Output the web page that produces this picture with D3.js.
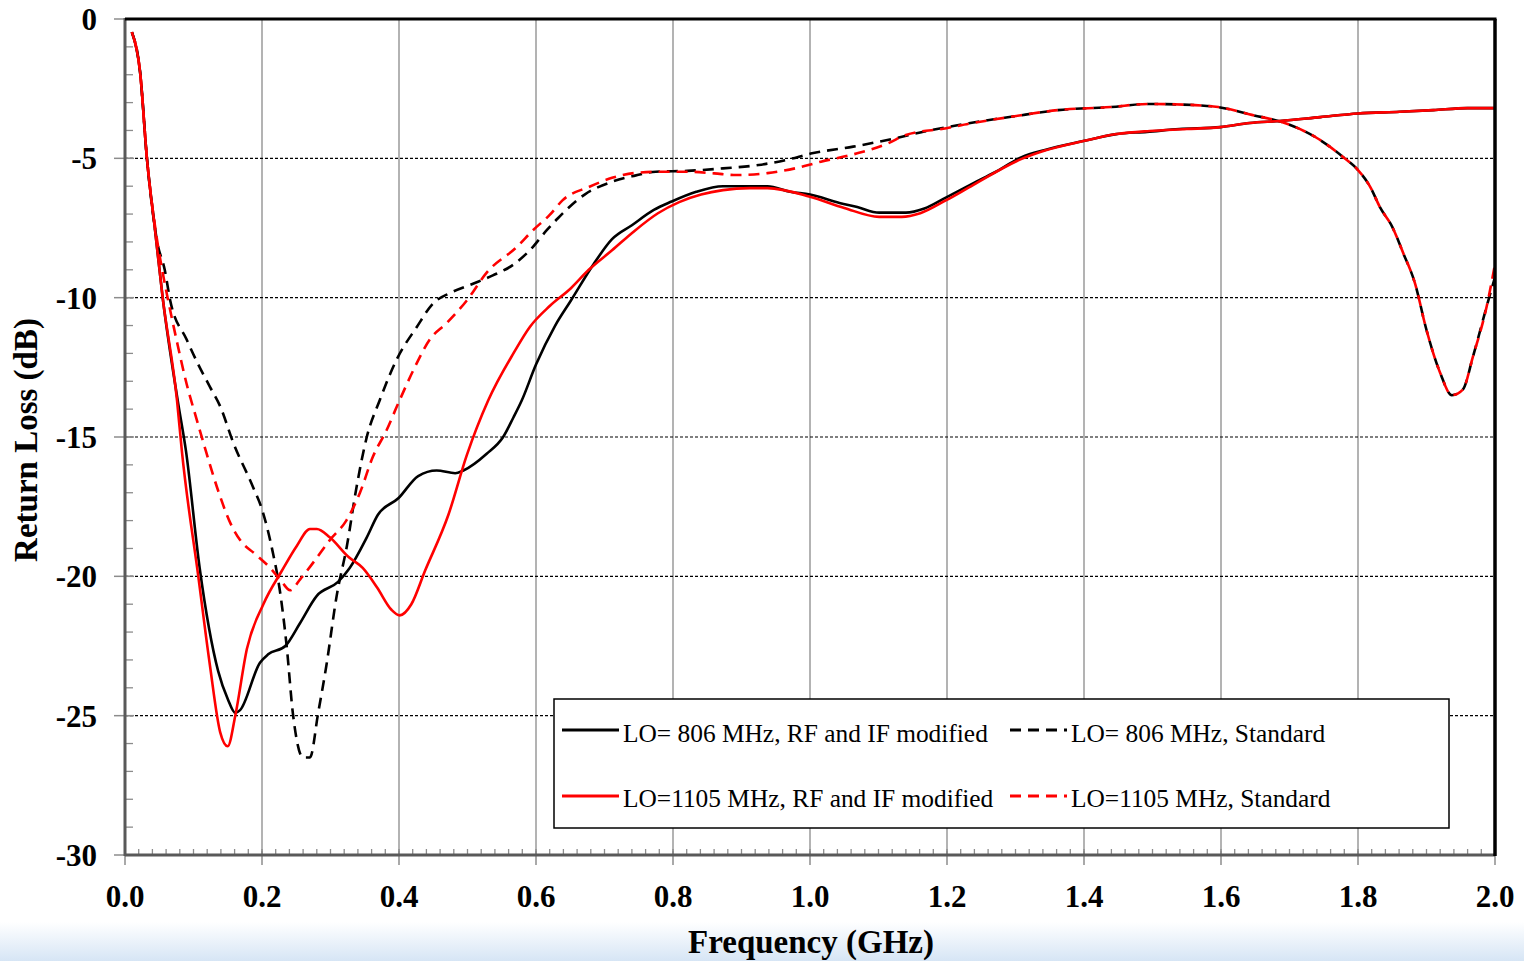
<!DOCTYPE html>
<html>
<head>
<meta charset="utf-8">
<script src="https://cdn.jsdelivr.net/npm/d3@7"></script>
<style>
  html, body { margin: 0; padding: 0; background: #fff; }
  svg { display: block; }
</style>
</head>
<body>
<svg id="chart" width="1524" height="961"></svg>
<script>
// ---------- data ----------
const xTickValues = [0, 0.2, 0.4, 0.6, 0.8, 1.0, 1.2, 1.4, 1.6, 1.8, 2.0];
const xTickLabels = ["0.0", "0.2", "0.4", "0.6", "0.8", "1.0", "1.2", "1.4", "1.6", "1.8", "2.0"];
const yTickValues = [0, -5, -10, -15, -20, -25, -30];
const yTickLabels = ["0", "-5", "-10", "-15", "-20", "-25", "-30"];

const seriesNames = [
  "LO= 806 MHz, RF and IF modified",
  "LO= 806 MHz, Standard",
  "LO=1105 MHz, RF and IF modified",
  "LO=1105 MHz, Standard"
];

// LO=806 MHz, RF and IF modified  [GHz, dB]
const lo806Modified = [
  [0.01,-0.47],[0.022,-1.9],[0.032,-5.0],[0.044,-7.6],[0.055,-10.0],[0.077,-13.7],[0.089,-15.5],
  [0.109,-19.7],[0.136,-23.4],[0.150,-24.4],[0.161,-24.9],[0.168,-24.8],[0.197,-23.1],
  [0.209,-22.8],[0.234,-22.5],[0.255,-21.7],[0.280,-20.7],[0.311,-20.2],[0.328,-19.7],
  [0.353,-18.6],[0.369,-17.8],[0.399,-17.2],[0.428,-16.4],[0.455,-16.2],[0.482,-16.3],
  [0.494,-16.2],[0.528,-15.6],[0.552,-15.0],[0.567,-14.3],[0.579,-13.7],[0.600,-12.4],
  [0.628,-11.0],[0.651,-10.1],[0.684,-8.8],[0.711,-7.9],[0.740,-7.4],[0.772,-6.85],
  [0.798,-6.55],[0.834,-6.2],[0.873,-6.0],[0.912,-6.0],[0.938,-6.0],[0.971,-6.2],
  [1.000,-6.3],[1.043,-6.6],[1.069,-6.75],[1.101,-6.95],[1.140,-6.95],[1.167,-6.8],
  [1.199,-6.4],[1.238,-5.9],[1.270,-5.5],[1.309,-4.96],[1.343,-4.7],[1.399,-4.38],
  [1.447,-4.13],[1.492,-4.05],[1.539,-3.95],[1.599,-3.88],[1.642,-3.73],[1.686,-3.66],
  [1.745,-3.52],[1.800,-3.39],[1.861,-3.33],[1.910,-3.27],[1.960,-3.2],[2.000,-3.2]
];

// LO=806 MHz, Standard
const lo806Standard = [
  [0.01,-0.47],[0.022,-1.9],[0.032,-5.0],[0.047,-8.0],[0.058,-9.0],[0.066,-10.1],[0.090,-11.5],
  [0.105,-12.3],[0.124,-13.2],[0.139,-13.9],[0.158,-15.2],[0.187,-16.8],[0.200,-17.6],
  [0.215,-19.05],[0.226,-20.5],[0.236,-22.5],[0.245,-24.9],[0.260,-26.5],[0.270,-26.5],
  [0.282,-24.9],[0.294,-23.2],[0.309,-20.7],[0.324,-18.9],[0.338,-16.8],[0.353,-15.0],
  [0.372,-13.67],[0.397,-12.2],[0.426,-11.05],[0.450,-10.2],[0.474,-9.84],[0.508,-9.5],
  [0.537,-9.2],[0.566,-8.83],[0.591,-8.3],[0.616,-7.57],[0.632,-7.15],[0.671,-6.3],
  [0.711,-5.84],[0.743,-5.63],[0.775,-5.48],[0.821,-5.45],[0.873,-5.36],[0.925,-5.24],
  [0.965,-5.06],[1.003,-4.82],[1.063,-4.58],[1.121,-4.3],[1.167,-4.04],[1.232,-3.74],
  [1.296,-3.5],[1.362,-3.27],[1.439,-3.16],[1.493,-3.05],[1.562,-3.09],[1.596,-3.16],
  [1.645,-3.44],[1.693,-3.73],[1.740,-4.27],[1.778,-4.95],[1.800,-5.42],[1.818,-6.03],
  [1.832,-6.75],[1.850,-7.46],[1.866,-8.4],[1.883,-9.47],[1.900,-11.16],[1.920,-12.7],
  [1.937,-13.5],[1.953,-13.3],[1.968,-12.1],[1.988,-10.3],[2.000,-9.26]
];

// LO=1105 MHz, RF and IF modified
const lo1105Modified = [
  [0.01,-0.47],[0.022,-1.9],[0.032,-5.0],[0.044,-7.6],[0.055,-10.0],[0.076,-13.7],[0.083,-15.5],
  [0.107,-20.0],[0.124,-23.2],[0.139,-25.6],[0.150,-26.1],[0.161,-25.0],[0.178,-22.6],
  [0.202,-21.0],[0.229,-19.8],[0.251,-18.9],[0.270,-18.3],[0.280,-18.3],[0.299,-18.6],
  [0.326,-19.3],[0.347,-19.7],[0.368,-20.4],[0.389,-21.2],[0.401,-21.4],[0.418,-21.0],
  [0.438,-19.8],[0.472,-17.8],[0.499,-15.65],[0.530,-13.7],[0.567,-12.0],[0.591,-11.05],
  [0.620,-10.3],[0.651,-9.66],[0.677,-9.0],[0.711,-8.3],[0.742,-7.64],[0.778,-6.97],
  [0.809,-6.57],[0.841,-6.3],[0.873,-6.14],[0.912,-6.07],[0.938,-6.07],[1.000,-6.38],
  [1.050,-6.78],[1.101,-7.1],[1.134,-7.1],[1.161,-6.97],[1.199,-6.5],[1.238,-5.96],
  [1.309,-5.02],[1.343,-4.72],[1.399,-4.38],[1.448,-4.13],[1.496,-4.02],[1.550,-3.95],
  [1.599,-3.88],[1.642,-3.73],[1.686,-3.66],[1.745,-3.52],[1.800,-3.39],[1.861,-3.33],
  [1.910,-3.27],[1.960,-3.2],[2.000,-3.2]
];

// LO=1105 MHz, Standard
const lo1105Standard = [
  [0.01,-0.47],[0.022,-1.9],[0.032,-5.0],[0.046,-7.8],[0.055,-9.1],[0.063,-10.1],[0.076,-11.6],
  [0.090,-13.1],[0.105,-14.4],[0.118,-15.5],[0.137,-17.0],[0.154,-18.1],[0.168,-18.7],
  [0.190,-19.2],[0.212,-19.7],[0.229,-20.2],[0.241,-20.5],[0.256,-20.1],[0.275,-19.5],
  [0.299,-18.7],[0.323,-18.0],[0.343,-17.0],[0.362,-15.7],[0.382,-14.75],[0.397,-13.9],
  [0.421,-12.6],[0.445,-11.5],[0.470,-10.9],[0.499,-10.1],[0.528,-9.1],[0.572,-8.18],
  [0.596,-7.57],[0.620,-7.03],[0.639,-6.5],[0.678,-6.02],[0.711,-5.7],[0.743,-5.53],
  [0.782,-5.48],[0.821,-5.48],[0.860,-5.54],[0.893,-5.6],[0.938,-5.53],[0.978,-5.36],
  [1.016,-5.12],[1.069,-4.82],[1.114,-4.46],[1.140,-4.16],[1.199,-3.92],[1.232,-3.76],
  [1.296,-3.5],[1.362,-3.27],[1.439,-3.16],[1.493,-3.05],[1.562,-3.09],[1.596,-3.16],
  [1.645,-3.44],[1.693,-3.73],[1.740,-4.27],[1.778,-4.95],[1.800,-5.42],[1.818,-6.03],
  [1.832,-6.75],[1.850,-7.46],[1.866,-8.4],[1.883,-9.47],[1.900,-11.16],[1.920,-12.7],
  [1.937,-13.5],[1.953,-13.3],[1.968,-12.1],[1.988,-10.3],[2.000,-8.8]
];

// ---------- layout ----------
const svg = d3.select("#chart");
const W = 1524, H = 961;
const L = 125, R = 1495, T = 19, B = 855;
const x = d3.scaleLinear().domain([0, 2]).range([L, R]);
const y = d3.scaleLinear().domain([-30, 0]).range([B, T]);
const serif = "'Liberation Serif', 'Times New Roman', serif";
const DASH = "11,7", DASH_PERIOD = 18;

// background gradient at bottom
const defs = svg.append("defs");
const grad = defs.append("linearGradient").attr("id", "bg").attr("x1", 0).attr("y1", 0).attr("x2", 0).attr("y2", 1);
grad.append("stop").attr("offset", "0%").attr("stop-color", "#ffffff");
grad.append("stop").attr("offset", "100%").attr("stop-color", "#d6e5f5");
svg.append("rect").attr("x", 0).attr("y", 0).attr("width", W).attr("height", H).attr("fill", "#fff");
svg.append("rect").attr("x", 0).attr("y", 922).attr("width", W).attr("height", H - 922).attr("fill", "url(#bg)");

defs.append("clipPath").attr("id", "plotclip")
  .append("rect").attr("x", L).attr("y", T - 2).attr("width", R - L).attr("height", B - T + 4);

// vertical gridlines
svg.append("g").selectAll("line")
  .data(xTickValues.filter(v => v > 0 && v < 2))
  .join("line")
  .attr("x1", d => x(d)).attr("x2", d => x(d))
  .attr("y1", T).attr("y2", B)
  .attr("stroke", "#9a9a9a").attr("stroke-width", 1.5);

// horizontal dashed gridlines
svg.append("g").selectAll("line")
  .data(yTickValues.filter(v => v < 0 && v > -30))
  .join("line")
  .attr("x1", L).attr("x2", R)
  .attr("y1", d => y(d)).attr("y2", d => y(d))
  .attr("stroke", "#000").attr("stroke-width", 1.2)
  .attr("stroke-dasharray", "3,2");

// minor ticks
const yMinor = d3.range(-30, 1, 1);
svg.append("g").selectAll("line").data(yMinor).join("line")
  .attr("x1", L).attr("x2", L + 8)
  .attr("y1", d => y(d)).attr("y2", d => y(d))
  .attr("stroke", "#8c8c8c").attr("stroke-width", 1.3);
const xMinor = d3.range(0, 101).map(i => i * 0.02);
svg.append("g").selectAll("line").data(xMinor).join("line")
  .attr("x1", d => x(d)).attr("x2", d => x(d))
  .attr("y1", B).attr("y2", B - 6)
  .attr("stroke", "#8c8c8c").attr("stroke-width", 1.3);

// major ticks
svg.append("g").selectAll("line").data(yTickValues).join("line")
  .attr("x1", L - 11).attr("x2", L + 9)
  .attr("y1", d => y(d)).attr("y2", d => y(d))
  .attr("stroke", "#8c8c8c").attr("stroke-width", 1.5);
svg.append("g").selectAll("line").data(xTickValues).join("line")
  .attr("x1", d => x(d)).attr("x2", d => x(d))
  .attr("y1", B - 4).attr("y2", B + 10)
  .attr("stroke", "#8c8c8c").attr("stroke-width", 1.5);

// curves
const line = d3.line().x(d => x(d[0])).y(d => y(d[1])).curve(d3.curveMonotoneX);
const curves = svg.append("g").attr("clip-path", "url(#plotclip)");
const series = [
  { data: lo806Modified, color: "#000", dash: null },
  { data: lo806Standard, color: "#000", dash: DASH },
  { data: lo1105Modified, color: "#ff0000", dash: null },
  { data: lo1105Standard, color: "#ff0000", dash: DASH }
];
const paths = series.map(s => curves.append("path")
    .attr("d", line(s.data))
    .attr("fill", "none")
    .attr("stroke", s.color)
    .attr("stroke-width", 2.6)
    .attr("stroke-linejoin", "round")
    .attr("stroke-dasharray", s.dash));

// shift the red dashed pattern by half a period relative to the black dashed one
// where both curves coincide (from 1.232 GHz on), so both colours show as in the original
function lengthUpTo(data, f) {
  const sub = data.filter(d => d[0] <= f + 1e-9);
  const tmp = curves.append("path").attr("d", line(sub)).attr("fill", "none");
  const len = tmp.node().getTotalLength();
  tmp.remove();
  return len;
}
const lb = lengthUpTo(lo806Standard, 1.232);
const lr = lengthUpTo(lo1105Standard, 1.232);
const off = (((lb - lr + DASH_PERIOD / 2) % DASH_PERIOD) + DASH_PERIOD) % DASH_PERIOD;
paths[3].attr("stroke-dashoffset", -off);

// frame: left & bottom axes (dark gray), top & right (black)
svg.append("line").attr("x1", L).attr("x2", L).attr("y1", T - 1).attr("y2", B + 1)
  .attr("stroke", "#595959").attr("stroke-width", 3);
svg.append("line").attr("x1", L).attr("x2", R).attr("y1", B).attr("y2", B)
  .attr("stroke", "#595959").attr("stroke-width", 3);
svg.append("line").attr("x1", L).attr("x2", R + 1.5).attr("y1", T).attr("y2", T)
  .attr("stroke", "#000").attr("stroke-width", 3);
svg.append("line").attr("x1", R).attr("x2", R).attr("y1", T).attr("y2", B + 1)
  .attr("stroke", "#000").attr("stroke-width", 3.5);

// tick labels
svg.append("g").selectAll("text").data(yTickValues).join("text")
  .attr("x", 97).attr("y", d => y(d) + 11)
  .attr("text-anchor", "end")
  .attr("font-family", serif).attr("font-weight", "bold").attr("font-size", 31)
  .text((d, i) => yTickLabels[i]);
svg.append("g").selectAll("text").data(xTickValues).join("text")
  .attr("x", d => x(d)).attr("y", 907)
  .attr("text-anchor", "middle")
  .attr("font-family", serif).attr("font-weight", "bold").attr("font-size", 31)
  .text((d, i) => xTickLabels[i]);

// axis titles
svg.append("text")
  .attr("x", 811).attr("y", 953)
  .attr("text-anchor", "middle")
  .attr("font-family", serif).attr("font-weight", "bold").attr("font-size", 33)
  .text("Frequency (GHz)");
svg.append("text")
  .attr("transform", "translate(37,440) rotate(-90)")
  .attr("text-anchor", "middle")
  .attr("font-family", serif).attr("font-weight", "bold").attr("font-size", 33)
  .text("Return Loss (dB)");

// legend
const lg = svg.append("g");
lg.append("rect").attr("x", 554).attr("y", 699).attr("width", 895).attr("height", 129)
  .attr("fill", "#fff").attr("stroke", "#000").attr("stroke-width", 1.5);
const legendItems = [
  { name: seriesNames[0], color: "#000", dash: null, lx: 562, ty: 742, ly: 730 },
  { name: seriesNames[1], color: "#000", dash: DASH, lx: 1010, ty: 742, ly: 730 },
  { name: seriesNames[2], color: "#ff0000", dash: null, lx: 562, ty: 807, ly: 796 },
  { name: seriesNames[3], color: "#ff0000", dash: DASH, lx: 1010, ty: 807, ly: 796 }
];
legendItems.forEach(it => {
  lg.append("line").attr("x1", it.lx).attr("x2", it.lx + 57)
    .attr("y1", it.ly).attr("y2", it.ly)
    .attr("stroke", it.color).attr("stroke-width", 3)
    .attr("stroke-dasharray", it.dash);
  lg.append("text").attr("x", it.lx + 61).attr("y", it.ty)
    .attr("font-family", serif).attr("font-size", 25.4)
    .attr("fill", "#000")
    .text(it.name);
});
</script>
</body>
</html>
